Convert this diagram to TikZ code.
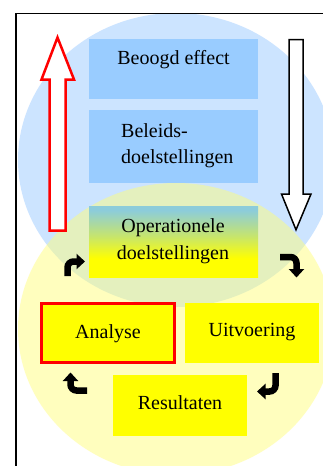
\documentclass[tikz,border=0pt]{standalone}
\usepackage{fontspec}
\setmainfont{Liberation Serif}
\usetikzlibrary{arrows.meta}

\definecolor{ovalblue}{RGB}{204,228,255}
\definecolor{ovalyellow}{RGB}{255,254,117}
\definecolor{boxblue}{RGB}{153,204,255}
\definecolor{boxyellow}{RGB}{255,255,0}
\definecolor{boxteal}{RGB}{140,204,218}
\definecolor{boxmid}{RGB}{198,229,110}

% vertical fade: yellow at the bottom, teal at the top
\pgfdeclareverticalshading{opfade}{100bp}{%
  color(0bp)=(boxyellow); color(38bp)=(boxyellow);
  color(54bp)=(boxmid); color(72bp)=(boxteal); color(100bp)=(boxteal)}

\tikzset{
  panel/.style={inner sep=0pt, outer sep=0pt, draw=none},
  bluepanel/.style={panel, fill=boxblue},
  yellowpanel/.style={panel, fill=boxyellow},
  lbl/.style={inner sep=0pt, font=\fontsize{20}{26}\selectfont},
  bent/.style={line width=6.5pt, rounded corners=6pt,
    -{Triangle[width=15pt,length=8.5pt]}},
}

\begin{document}
\begin{tikzpicture}[x=1pt,y=-1pt]
\useasboundingbox (0,0) rectangle (323,466);
\fill[white] (0,0) rectangle (323,466);

% the two overlapping ovals
\fill[ovalblue] (176,160) ellipse [x radius=158, y radius=147];
\fill[ovalyellow, fill opacity=0.47] (176,329) ellipse [x radius=158, y radius=146];

% goal boxes
\node[bluepanel, minimum width=169pt, minimum height=60pt] (effect) at (173.5,69) {};
\node[bluepanel, minimum width=169pt, minimum height=73pt] (beleid) at (173.5,146.5) {};
\node[panel, shading=opfade, minimum width=169pt, minimum height=71pt] (oper) at (173.5,241.5) {};

% cycle boxes
\node[yellowpanel, draw=red, line width=3pt, minimum width=132.7pt, minimum height=59.5pt] (analyse) at (107.85,332.75) {};
\node[yellowpanel, minimum width=134pt, minimum height=60pt] (uitv) at (252,333) {};
\node[yellowpanel, minimum width=134pt, minimum height=61pt] (result) at (180,405.5) {};

% labels
\node[lbl, anchor=base] (teffect) at (173.5,64) {Beoogd effect};
\node[lbl, anchor=north west, align=left] (tbeleid) at (121,123) {Beleids-\\doelstellingen};
\node[lbl, anchor=base] (toper1) at (173,232.5) {Operationele};
\node[lbl, anchor=base] (toper2) at (173,259) {doelstellingen};
\node[lbl, anchor=base] (tanalyse) at (108,338) {Analyse};
\node[lbl, anchor=base] (tuitv) at (252,336) {Uitvoering};
\node[lbl, anchor=base] (tresult) at (180,409) {Resultaten};

% hollow upward arrow (red) and downward arrow (black)
\draw[red, line width=2.5pt, fill=white]
  (49.5,230.5) -- (49.5,79.5) -- (41.5,79.5) -- (57.5,37.5)
  -- (74,79.5) -- (65.5,79.5) -- (65.5,230.5) -- cycle;
\draw[black, line width=1.5pt, fill=white]
  (289,39.5) -- (303,39.5) -- (303,194) -- (311,194) -- (296,229.8)
  -- (281.5,194) -- (289,194) -- cycle;

% small bent arrows around the cycle
\coordinate (b1s) at (67.5,276);   \coordinate (b1e) at (85,261.5);
\coordinate (b2s) at (280,257);    \coordinate (b2e) at (296.5,277.5);
\coordinate (b3s) at (275.5,373);  \coordinate (b3e) at (257,391.5);
\coordinate (b4s) at (87,390.5);   \coordinate (b4e) at (70.5,372.5);
\draw[bent] (b1s) |- (b1e);
\draw[bent] (b2s) -| (b2e);
\draw[bent] (b3s) |- (b3e);
\draw[bent] (b4s) -| (b4e);

% outer frame
\draw[line width=1.5pt] (16,466) -- (16,13.5) -- (323,13.5);
\end{tikzpicture}
\end{document}
